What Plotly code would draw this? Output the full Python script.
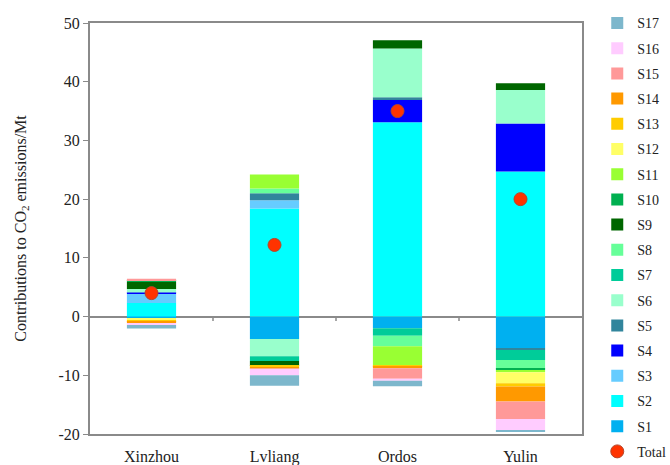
import plotly.graph_objects as go

cities = ["Xinzhou", "Lvliang", "Ordos", "Yulin"]

S1 = [-0.3, -3.8, -2.0, -5.4]
S2 = [2.3, 18.4, 33.1, 24.7]
S3 = [1.6, 1.4, 0, 0]
S4 = [0.2, 0, 3.8, 8.2]
S5 = [0, 1.2, 0.45, -0.28]
S6 = [0.6, -2.95, 8.3, 5.7]
S7 = [0, -0.8, -1.25, -1.7]
S8 = [0, 0.8, -1.8, -1.47]
S9 = [1.2, -0.85, 1.4, 1.13]
S10 = [0.3, 0, 0, -0.28]
S11 = [0, 2.4, -3.3, -0.34]
S12 = [-0.3, 0, 0, -1.87]
S13 = [-0.2, -0.2, -0.2, -0.57]
S14 = [-0.3, -0.25, -0.25, -2.55]
S15 = [0.25, 0, -1.8, -3.0]
S16 = [-0.35, -1.15, -0.35, -1.93]
S17 = [-0.6, -1.8, -0.9, -0.17]
Total = [4.0, 12.2, 35.0, 20.0]

y_ticks = [-20, -10, 0, 10, 20, 30, 40, 50]
y_tick_labels = ["-20", "-10", "0", "10", "20", "30", "40", "50"]

series = [S1, S2, S3, S4, S5, S6, S7, S8, S9, S10, S11, S12, S13, S14, S15, S16, S17]
names = ["S%d" % (i + 1) for i in range(17)]
colors = ["#00B0F0", "#00FFFF", "#66CCFF", "#0000FF", "#31859C", "#99FFCC",
          "#00CC99", "#66FF99", "#006600", "#00B050", "#99FF33", "#FFFF66",
          "#FFCC00", "#FF9900", "#FF9999", "#FFCCFF", "#7DB7CC"]

FONT = "Liberation Serif"
TXT = "#222222"
AX = "#8a8a8a"
fig = go.Figure()
for i, (nm, vals, c) in enumerate(zip(names, series, colors)):
    fig.add_trace(go.Bar(x=cities, y=vals, name=nm, legendgroup=nm,
                         legendrank=100 - i,
                         marker=dict(color=c, line=dict(width=0))))
fig.add_trace(go.Scatter(x=cities, y=Total, mode="markers", name="Total",
                         legendgroup="Total", legendrank=200,
                         marker=dict(size=13, color="#FF3300",
                                     line=dict(color="#B5462A", width=1))))

for xv in [0.5, 1.5, 2.5]:
    fig.add_shape(type="line", xref="x", yref="y", x0=xv, x1=xv, y0=0, y1=-0.75,
                  line=dict(color=AX, width=1.5))

fig.update_layout(
    width=670, height=465,
    margin=dict(l=90, r=88, t=23, b=31, autoexpand=False),
    barmode="relative", bargap=0.6,
    plot_bgcolor="white", paper_bgcolor="white",
    font=dict(family=FONT, size=15, color=TXT),
    showlegend=True,
    legend=dict(traceorder="grouped", tracegroupgap=4, maxheight=470,
                x=1.031, xanchor="left", y=1.038, yanchor="top",
                font=dict(family=FONT, size=14, color=TXT),
                itemwidth=30, bgcolor="rgba(0,0,0,0)"),
    xaxis=dict(range=[-0.5, 3.5], showline=True, mirror=True, linecolor=AX,
               linewidth=2, ticks="", showgrid=False, ticklabelstandoff=7,
               tickfont=dict(family=FONT, size=16, color=TXT)),
    yaxis=dict(range=[-20, 50], tickmode="array", tickvals=y_ticks,
               ticktext=y_tick_labels, showline=True, mirror=True,
               linecolor=AX, linewidth=2, ticks="outside", ticklen=5,
               tickcolor=AX, showgrid=False, zeroline=True,
               zerolinecolor=AX, zerolinewidth=1.5, ticklabelstandoff=0,
               title=dict(text="Contributions to CO<sub>2</sub> emissions/Mt",
                          font=dict(family=FONT, size=16, color=TXT),
                          standoff=28),
               tickfont=dict(family=FONT, size=16, color=TXT)),
)
fig.write_html("out.html", config={"displayModeBar": False},
               post_script="document.body.style.margin='0';document.body.style.overflow='hidden';")
